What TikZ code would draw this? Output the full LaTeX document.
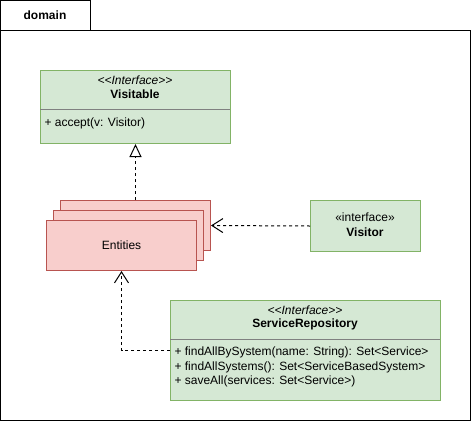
\documentclass[tikz,border=0pt]{standalone}
\usepackage{fontspec}
\setmainfont{Liberation Sans}
\usepackage{xcolor}
\usetikzlibrary{arrows.meta}
\definecolor{gfill}{HTML}{D5E8D4}
\definecolor{gline}{HTML}{82B366}
\definecolor{rfill}{HTML}{F8CECC}
\definecolor{rline}{HTML}{B85450}

\begin{document}
\begin{tikzpicture}[x=1pt,y=-1pt,line width=1pt,font=\fontsize{12}{14}\selectfont,
  box/.style={draw,anchor=north west,inner sep=0pt},
  cls/.style={box,fill=gfill,draw=gline},
  ent/.style={box,fill=rfill,draw=rline,minimum width=150pt,minimum height=50pt},
  lbl/.style={inner sep=0pt},
  member/.style={lbl,anchor=west},
  dep/.style={dashed,dash pattern=on 3pt off 3pt}]
  \useasboundingbox (0,0) rectangle (471,421);
  % package
  \node[box,minimum width=90pt,minimum height=30pt] (tab) at (0,0) {};
  \node[lbl,font=\fontsize{12}{14}\selectfont\bfseries] (tabname) at (45,15) {domain};
  \node[box,minimum width=470pt,minimum height=390pt] (pkg) at (0,30) {};
  % Visitable
  \node[cls,minimum width=190pt,minimum height=73pt] (visitable) at (40,70) {};
  \draw[gray] (40,109) -- (230,109);
  \node[lbl] (visitablest) at (135,80) {\itshape <{}<Interface>{}>};
  \node[lbl] (visitablename) at (135,94) {\bfseries Visitable};
  \node[member] (accept) at (44,123) {+ accept(v: Visitor)};
  % Entities
  \node[ent] (ent3) at (60,200) {};
  \node[ent] (ent2) at (53,210) {};
  \node[ent] (ent1) at (46,220) {Entities};
  % Visitor
  \node[cls,minimum width=110pt,minimum height=51pt] (visitor) at (310,200) {};
  \node[lbl] (visitorst) at (365,217) {«interface»};
  \node[lbl] (visitorname) at (365,232) {\bfseries Visitor};
  % ServiceRepository
  \node[cls,minimum width=270pt,minimum height=100pt] (repo) at (170,300) {};
  \draw[gray] (170,339) -- (440,339);
  \node[lbl] (repost) at (305,310) {\itshape <{}<Interface>{}>};
  \node[lbl] (reponame) at (305,324) {\bfseries ServiceRepository};
  \node[member] (find) at (174,352) {+ findAllBySystem(name: String): Set<Service>};
  \node[member] (findall) at (174,367) {+ findAllSystems(): Set<ServiceBasedSystem>};
  \node[member] (save) at (174,381) {+ saveAll(services: Set<Service>)};
  % relations
  \draw[dep,-{Triangle[open,length=13pt,width=12pt,fill=white]}] (ent3.north) -- (visitable.south);
  \draw[dep,-{Straight Barb[length=11pt,width=14pt]}] (visitor.west) -- (ent3.east);
  \draw[dep,-{Straight Barb[length=11pt,width=14pt]}] (repo.west) -| (ent1.south);
\end{tikzpicture}
\end{document}
